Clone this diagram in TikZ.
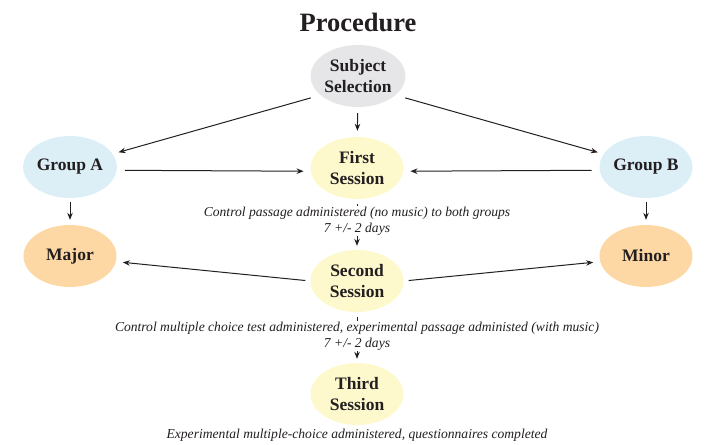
\documentclass[tikz,border=0pt]{standalone}
\usepackage{fontspec}
\setmainfont{Liberation Serif}
\usetikzlibrary{shapes.geometric,arrows.meta}
\definecolor{inkdark}{HTML}{231F20}
\definecolor{selgray}{HTML}{E6E6E8}
\definecolor{grpblue}{HTML}{DCEFF7}
\definecolor{sesyellow}{HTML}{FEF9CD}
\definecolor{condorange}{HTML}{FDD7A4}
\tikzset{
  blob/.style={ellipse, inner sep=0pt, minimum width=93pt, minimum height=62pt,
    align=center, font=\fontsize{17.5}{21}\selectfont\bfseries, text=inkdark},
  note/.style={align=center, font=\fontsize{13.6}{16}\selectfont\itshape,
    text=inkdark, fill=white, inner sep=1pt},
  arr/.style={-{Stealth[length=7pt,width=5.5pt]}, line width=1pt, draw=inkdark,
    shorten >=6pt, shorten <=6pt}
}
\begin{document}
\begin{tikzpicture}[x=1pt,y=-1pt]
   \useasboundingbox (0,0) rectangle (706,444);
   \node[font=\fontsize{26.5}{30}\selectfont\bfseries, text=inkdark] (title) at (358,22) {Procedure};
   % nodes
   \node[blob, fill=selgray] (subj) at (358,76) {Subject\\Selection};
   \node[blob, fill=grpblue] (grpa) at (70,167) {Group A};
   \node[blob, fill=grpblue] (grpb) at (646,167) {Group B};
   \node[blob, fill=sesyellow] (first) at (357,168) {First\\Session};
   \node[blob, fill=condorange] (major) at (70,256) {Major};
   \node[blob, fill=condorange] (minor) at (646,256) {Minor};
   \node[blob, fill=sesyellow] (second) at (357,281) {Second\\Session};
   \node[blob, fill=sesyellow] (third) at (357,394) {Third\\Session};
   % arrows
   \draw[arr, shorten <=10pt] (subj.207) -- (grpa.17);
   \draw[arr, shorten <=10pt] (subj.333) -- (grpb.163);
   \draw[arr] (subj) -- (first);
   \draw[arr, shorten <=8pt, shorten >=7pt] (grpa.-4) -- (first.184);
   \draw[arr, shorten <=8pt, shorten >=7pt] (grpb.184) -- (first.-4);
   \draw[arr, shorten <=4pt, shorten >=5pt] (grpa) -- (major);
   \draw[arr, shorten <=4pt, shorten >=5pt] (grpb) -- (minor);
   \draw[arr, shorten <=5pt, shorten >=7pt] (second.west) -- (major.-7);
   \draw[arr, shorten <=5pt, shorten >=7pt] (second.east) -- (minor.187);
   \draw[arr, shorten <=5pt, shorten >=4pt] (first) -- (second);
   \draw[arr, shorten <=5pt, shorten >=4pt] (second) -- (third);
   % notes
   \node[note] (gap1) at (357,221) {Control passage administered (no music) to both groups\\7 +/- 2 days};
   \node[note] (gap2) at (357,336) {Control multiple choice test administered, experimental passage administed (with music)\\7 +/- 2 days};
   \node[note] (last) at (357,435) {Experimental multiple-choice administered, questionnaires completed};
\end{tikzpicture}
\end{document}
